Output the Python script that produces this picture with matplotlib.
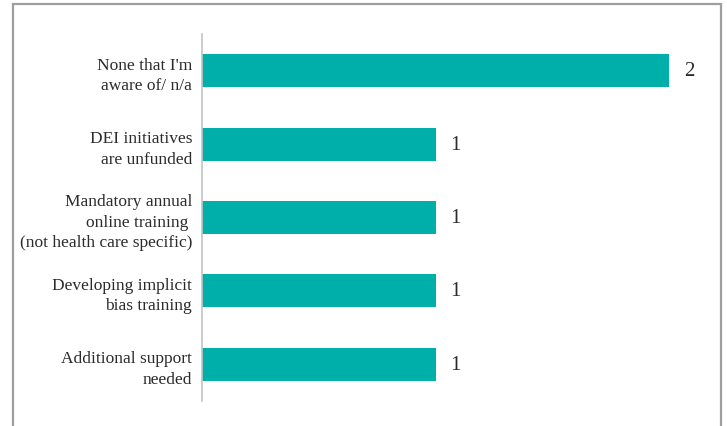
import matplotlib
matplotlib.use("Agg")
import matplotlib.pyplot as plt
from matplotlib.patches import Rectangle

categories = [
    "None that I'm\naware of/ n/a",
    "DEI initiatives\nare unfunded",
    "Mandatory annual\nonline training \n(not health care specific)",
    "Developing implicit\nbias training",
    "Additional support\nneeded",
]
values = [2, 1, 1, 1, 1]

bar_color = "#00AFA9"
text_color = "#2b2b2b"

W, H = 727, 427
fig = plt.figure(figsize=(W / 100, H / 100), dpi=100)
plt.rcParams["font.family"] = ["Liberation Serif", "DejaVu Serif"]

# axes placed in pixel terms
left, right, top, bottom = 202, 720, 35, 402
ax = fig.add_axes([left / W, (H - bottom) / H, (right - left) / W, (bottom - top) / H])

px_per_unit = 233.5
ax.set_xlim(0, (right - left) / px_per_unit)
n = len(categories)
ax.set_ylim(n - 0.5, -0.5)

ypos = list(range(n))
ax.barh(ypos, values, height=0.45, color=bar_color, edgecolor="none")

for y, v in zip(ypos, values):
    ax.text(v + 15 / px_per_unit, y, f"{v}", va="center", ha="left",
            fontsize=15, color=text_color)

ax.set_yticks(ypos)
ax.set_yticklabels(categories, fontsize=12.5, color=text_color, linespacing=1.38)
ax.tick_params(axis="y", length=0, pad=7)
ax.set_xticks([])

for s in ["top", "right", "bottom"]:
    ax.spines[s].set_visible(False)
ax.spines["left"].set_color("#c4c4c4")
ax.spines["left"].set_linewidth(1.2)

# outer frame around the chart area
frame = Rectangle((13 / W, -0.05), (721 - 13) / W, (H - 5) / H + 0.05,
                  transform=fig.transFigure, fill=False,
                  edgecolor="#9e9e9e", linewidth=1.6, clip_on=False)
fig.patches.append(frame)

fig.savefig("out.png", dpi=100, facecolor="white")
